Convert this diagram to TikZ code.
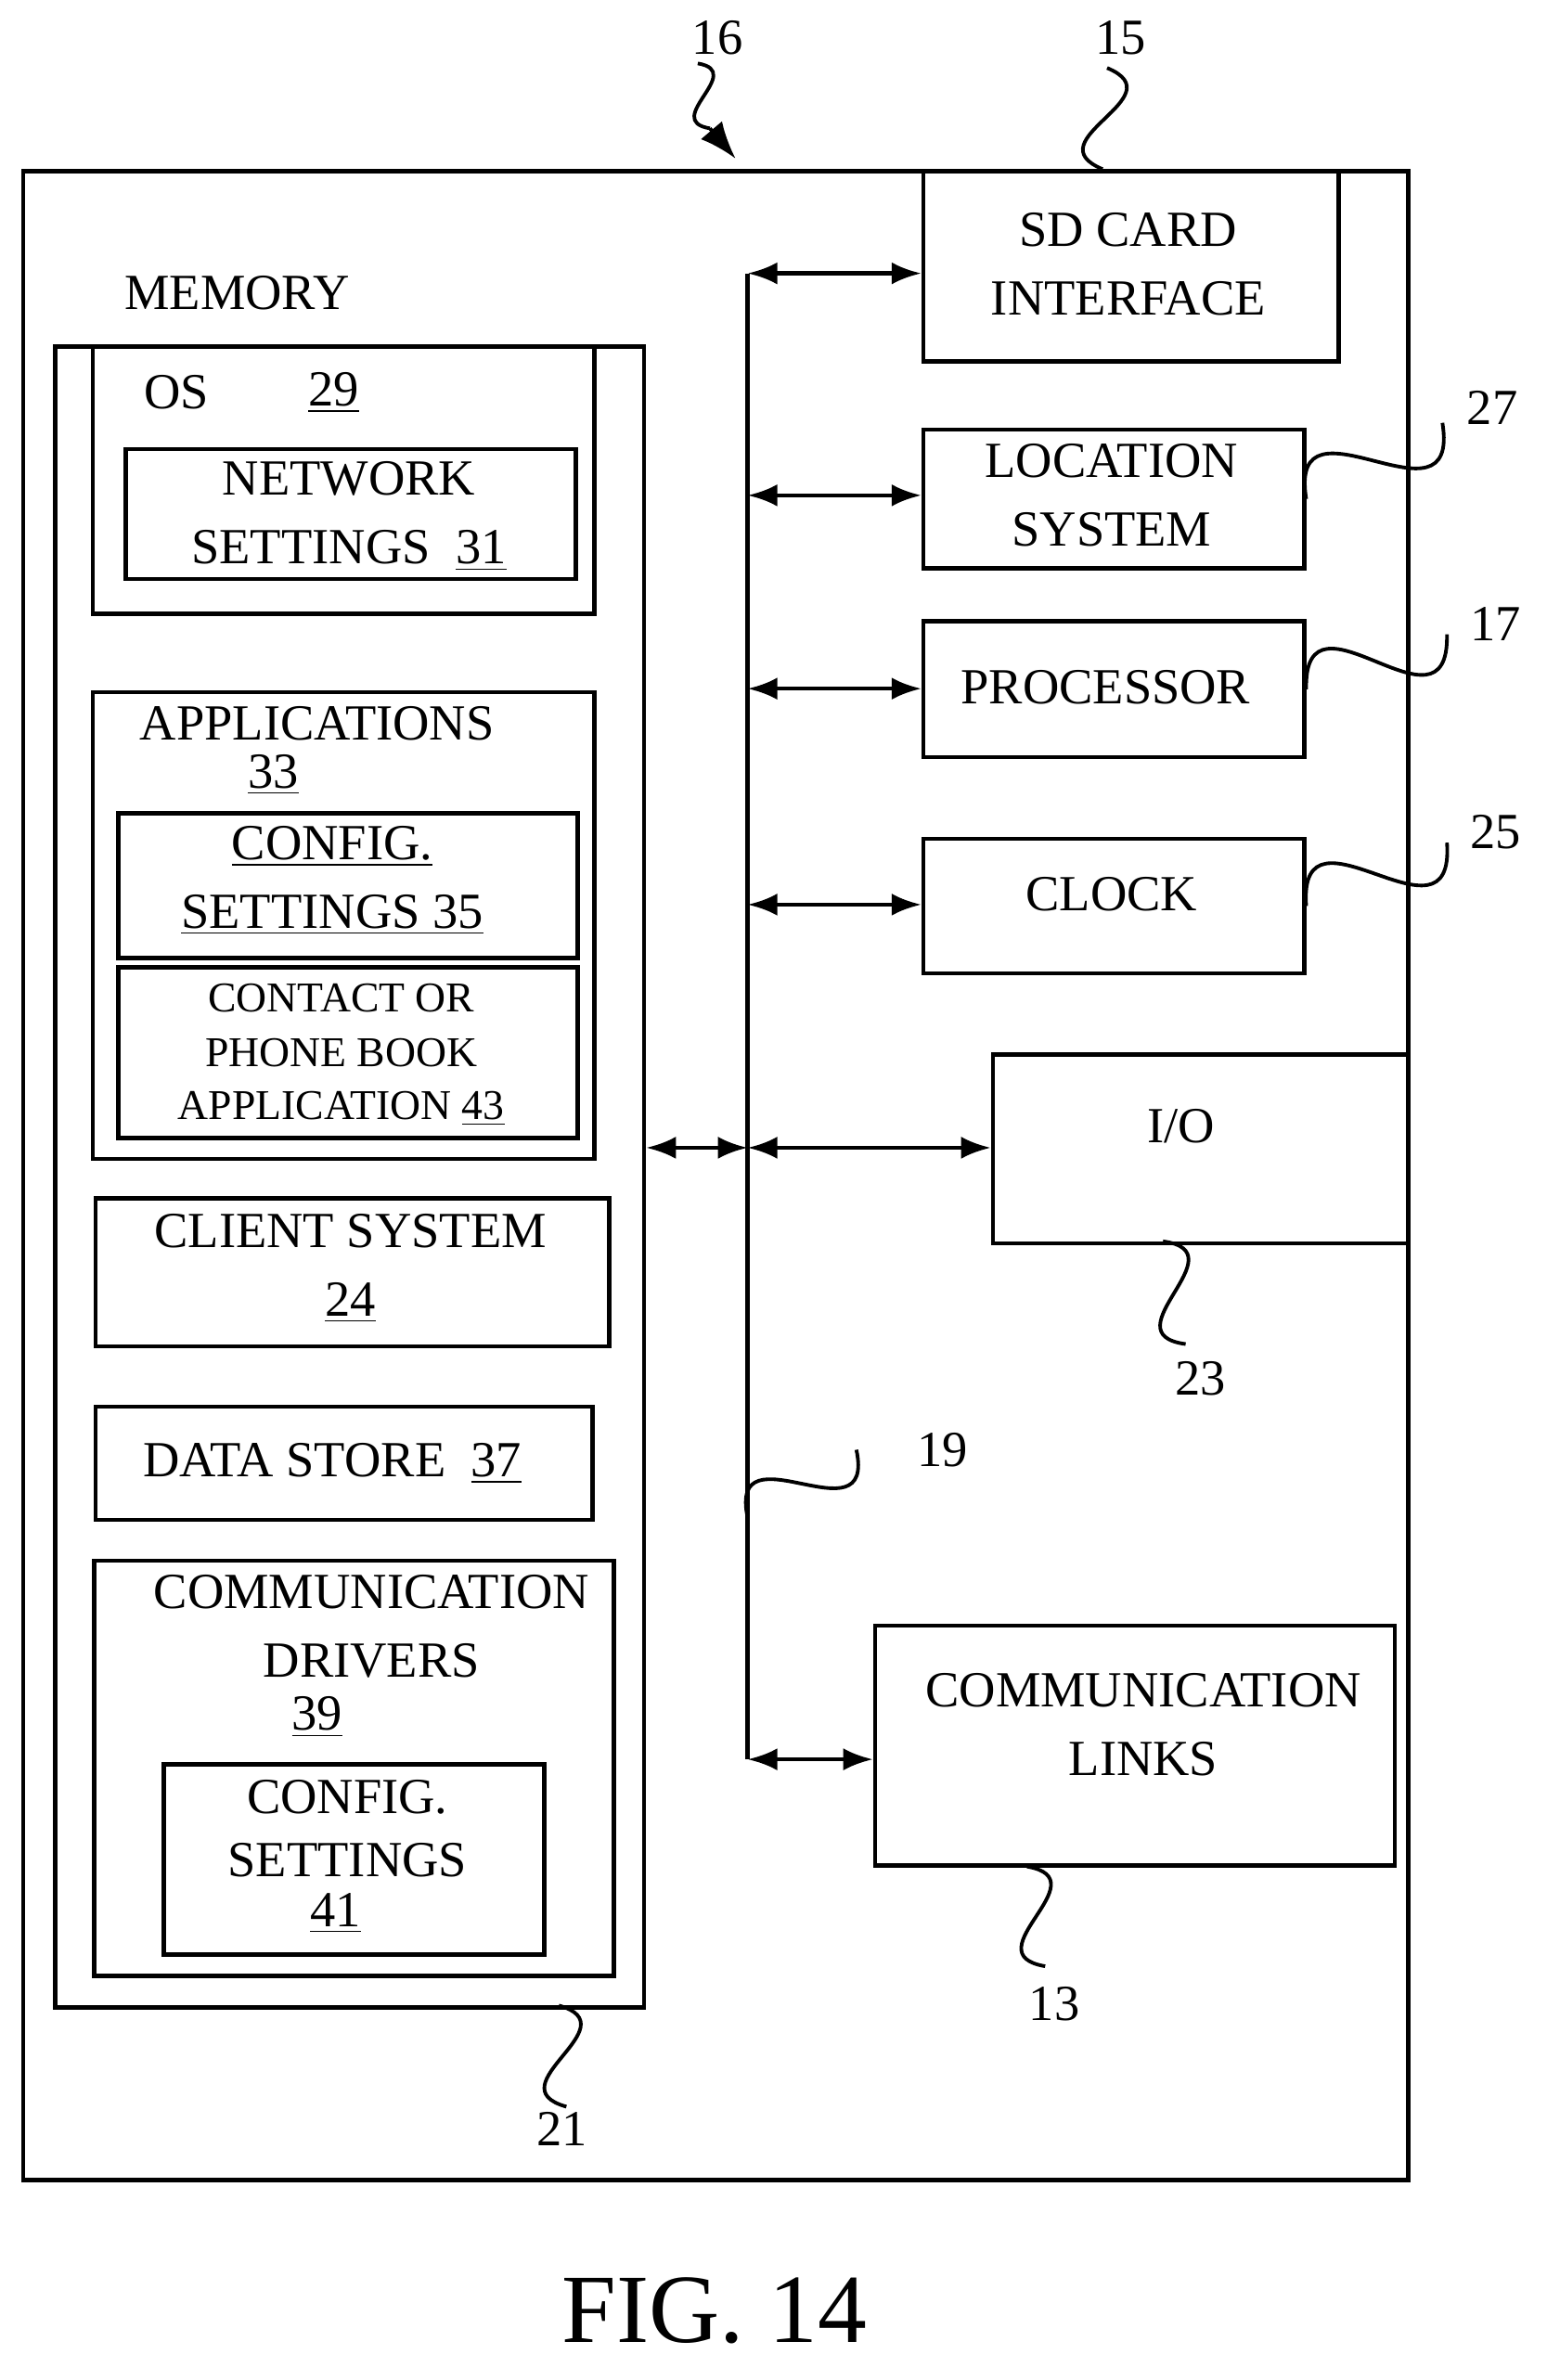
\documentclass[tikz,border=0pt]{standalone}
\usepackage{fontspec}
\setmainfont{Liberation Serif}
\usetikzlibrary{arrows.meta, calc}
\def\u{0.01627cm}
\tikzset{
	box/.style = {draw, line width=1.3pt, anchor=north west, inner sep=0pt},
	txt/.style = {font=\fontsize{15.5}{18}\selectfont, inner sep=0pt, align=center},
	small/.style = {font=\fontsize{13}{15}\selectfont, inner sep=0pt},
	dbl/.style = {{Latex[length=3.2mm,width=2.4mm]}-{Latex[length=3.2mm,width=2.4mm]}, line width=1.3pt},
	lead/.style = {line width=1.1pt},
}
% leader line in S shape
\newcommand{\squig}[2]{\draw[lead] (#1) .. controls ($(#1)!0.75!70:(#2)$) and ($(#2)!0.75!70:(#1)$) .. (#2);}
\newcommand{\bx}[5]{\node[box, minimum width={(#4-#2)*\u}, minimum height={(#5-#3)*\u}] (#1) at (#2,#3) {};}

\begin{document}
\begin{tikzpicture}[x=\u, y=-\u]
	\useasboundingbox (0,0) rectangle (1024,1576);

	% outer frame
	\bx{dev}{14}{112}{931}{1442}

	% boxes on the right
	\bx{sd}{610}{112}{885}{238}
	\bx{loc}{610}{283}{862}{375}
	\bx{proc}{610}{410}{862}{500}
	\bx{clk}{610}{554}{862}{643}
	\bx{io}{656}{697}{931}{822}
	\bx{links}{578}{1075}{922}{1234}

	\node[txt] (sdt) at (747,175) {SD CARD\\[3pt]INTERFACE};
	\node[txt] (loct) at (736,328) {LOCATION\\[3pt]SYSTEM};
	\node[txt] (proct) at (732,455) {PROCESSOR};
	\node[txt] (clkt) at (736,592) {CLOCK};
	\node[txt] (iot) at (782,746) {I/O};
	\node[txt] (linkst) at (757,1142) {COMMUNICATION\\[3pt]LINKS};

	% memory
	\node[txt] (memt) at (157,194) {MEMORY};
	\bx{mem}{35}{228}{425}{1328}
	\bx{os}{60}{228}{392}{405}
	\node[txt] (ost) at (117,260) {OS};
	\node[txt] (osn) at (221,260) {\underline{29}};
	\bx{net}{82}{296}{380}{382}
	\node[txt] (nett) at (231,342) {NETWORK\\[3pt]SETTINGS\ \ \underline{31}};

	\bx{apps}{60}{457}{392}{766}
	\node[txt] (appst) at (210,479) {APPLICATIONS};
	\node[txt] (appsn) at (181,513) {\underline{33}};
	\bx{cfg}{77}{537}{381}{633}
	\node[txt] (cfgt) at (220,583) {\underline{CONFIG.}\\[3pt]\underline{SETTINGS 35}};
	\bx{book}{77}{639}{381}{752}
	\node[small] (bookt1) at (226,661) {CONTACT OR};
	\node[small] (bookt2) at (226,697) {PHONE BOOK};
	\node[small] (bookt3) at (226,734) {APPLICATION \underline{43}};

	\bx{cli}{62}{792}{402}{890}
	\node[txt] (clit) at (232,840) {CLIENT SYSTEM\\[3pt]\underline{24}};
	\bx{data}{62}{930}{391}{1005}
	\node[txt] (datat) at (220,969) {DATA STORE\ \ \underline{37}};

	\bx{drv}{61}{1032}{405}{1307}
	\node[txt] (drvt) at (246,1077) {COMMUNICATION\\[3pt]DRIVERS};
	\node[txt] (drvn) at (210,1137) {\underline{39}};
	\bx{cfg2}{107}{1167}{359}{1293}
	\node[txt] (cfg2t1) at (230,1190) {CONFIG.};
	\node[txt] (cfg2t2) at (230,1232) {SETTINGS};
	\node[txt] (cfg2n) at (222,1267) {\underline{41}};

	% bus
	\coordinate (b1) at (495,181);
	\coordinate (b2) at (495,328);
	\coordinate (b3) at (495,456);
	\coordinate (b4) at (495,599);
	\coordinate (b5) at (495,760);
	\coordinate (b6) at (495,1165);
	\draw[line width=1.3pt] (b1) -- (b6);
	\draw[dbl] (b1) -- (b1 -| sd.west);
	\draw[dbl] (b2) -- (b2 -| loc.west);
	\draw[dbl] (b3) -- (b3 -| proc.west);
	\draw[dbl] (b4) -- (b4 -| clk.west);
	\draw[dbl] (b5) -- (b5 -| io.west);
	\draw[dbl] (b6) -- (b6 -| links.west);
	\draw[dbl] (b5 -| mem.east) -- (b5);

	% reference numerals
	\node[txt] (n16) at (475,25) {16};
	\coordinate (a16) at (462,42);
	\coordinate (e16) at (470,85);
	\squig{a16}{e16}
	\draw[lead, -{Latex[length=4mm,width=3mm]}] (e16) -- (487,105);

	\node[txt] (n15) at (742,25) {15};
	\coordinate (a15) at (733,45);
	\squig{a15}{sd.north -| 730,0}

	\node[txt] (n27) at (988,270) {27};
	\coordinate (a27) at (955,280);
	\squig{loc.east}{a27}

	\node[txt] (n17) at (990,413) {17};
	\coordinate (a17) at (958,420);
	\squig{proc.east}{a17}

	\node[txt] (n25) at (990,551) {25};
	\coordinate (a25) at (958,558);
	\squig{clk.east}{a25}

	\node[txt] (n23) at (795,913) {23};
	\coordinate (s23) at (770,822);
	\coordinate (a23) at (785,890);
	\squig{s23}{a23}

	\node[txt] (n19) at (624,960) {19};
	\coordinate (s19) at (495,1005);
	\coordinate (a19) at (567,960);
	\squig{s19}{a19}

	\node[txt] (n13) at (698,1327) {13};
	\coordinate (s13) at (680,1236);
	\coordinate (a13) at (692,1302);
	\squig{s13}{a13}

	\node[txt] (n21) at (372,1410) {21};
	\coordinate (s21) at (370,1328);
	\coordinate (a21) at (375,1395);
	\squig{s21}{a21}

	% caption
	\node[font=\fontsize{30}{34}\selectfont] (fig) at (473,1530) {FIG. 14};
\end{tikzpicture}
\end{document}
